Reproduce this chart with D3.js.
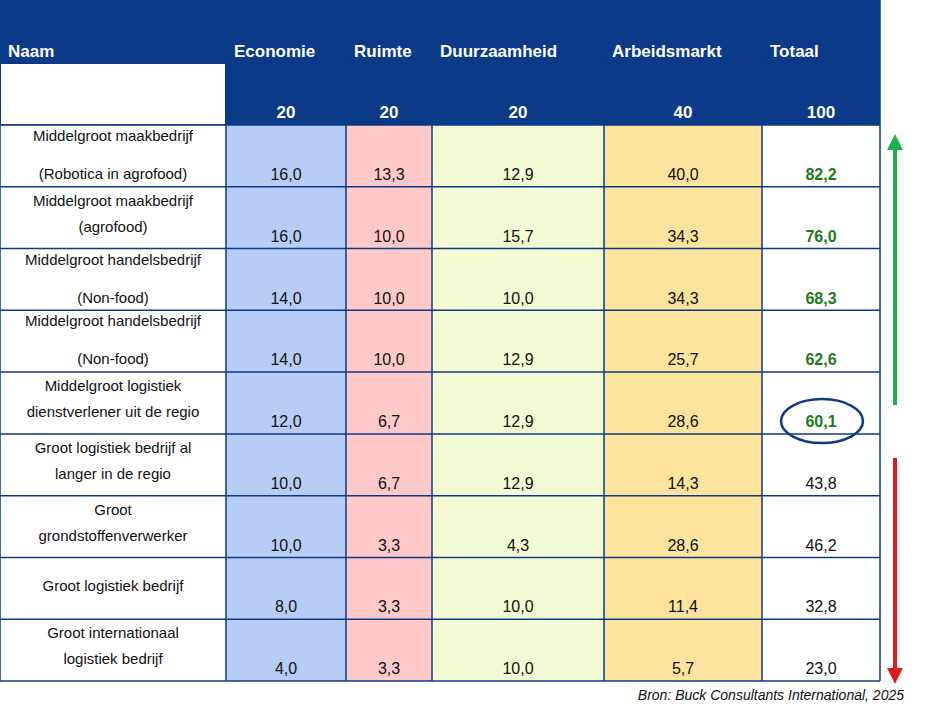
<!DOCTYPE html>
<html><head><meta charset="utf-8">
<script src="https://cdn.jsdelivr.net/npm/d3@7"></script>
<style>body{margin:0;background:#fff}</style>
</head><body><div id="chart"></div>
<script>
// data
const columns = ["Naam", "Economie", "Ruimte", "Duurzaamheid", "Arbeidsmarkt", "Totaal"];
const weights = ["", "20", "20", "20", "40", "100"];
const names = [
  ["Middelgroot maakbedrijf", "(Robotica in agrofood)"],
  ["Middelgroot maakbedrijf", "(agrofood)"],
  ["Middelgroot handelsbedrijf", "(Non-food)"],
  ["Middelgroot handelsbedrijf", "(Non-food)"],
  ["Middelgroot logistiek", "dienstverlener uit de regio"],
  ["Groot  logistiek bedrijf al", "langer in de regio"],
  ["Groot", "grondstoffenverwerker"],
  ["Groot logistiek bedrijf"],
  ["Groot internationaal", "logistiek bedrijf"]
];
const economie = [16.0, 16.0, 14.0, 14.0, 12.0, 10.0, 10.0, 8.0, 4.0];
const ruimte = [13.3, 10.0, 10.0, 10.0, 6.7, 6.7, 3.3, 3.3, 3.3];
const duurzaamheid = [12.9, 15.7, 10.0, 12.9, 12.9, 12.9, 4.3, 10.0, 10.0];
const arbeidsmarkt = [40.0, 34.3, 34.3, 25.7, 28.6, 14.3, 28.6, 11.4, 5.7];
const totaal = [82.2, 76.0, 68.3, 62.6, 60.1, 43.8, 46.2, 32.8, 23.0];
const highlighted = 5; // top rows in green
const circled = 4;

const W = 945, H = 721;
const colEdges = [0, 226, 346, 432, 604, 762, 880];
const colFill = ["#ffffff", "#b7cdf6", "#ffc9c9", "#f3fbd5", "#fde39c", "#ffffff"];
const navy = "#0b3a88";
const font = "'Liberation Sans', Arial, sans-serif";

const svg = d3.select("#chart").append("svg").attr("width", W).attr("height", H);

const y = d3.scaleBand().domain(d3.range(9)).range([125, 681]);
const fmt = v => v.toFixed(1).replace(".", ",");

// column backgrounds for body
columns.forEach((c, i) => {
  svg.append("rect").attr("x", colEdges[i]).attr("y", 125)
    .attr("width", colEdges[i + 1] - colEdges[i]).attr("height", 556)
    .attr("fill", colFill[i]);
});
// header
svg.append("rect").attr("x", 0).attr("y", 0).attr("width", 880).attr("height", 125).attr("fill", navy);
svg.append("rect").attr("x", 1).attr("y", 64).attr("width", 224).attr("height", 60).attr("fill", "#fff");

columns.forEach((c, i) => {
  svg.append("text").attr("x", colEdges[i] + 8).attr("y", 57)
    .attr("font-family", font).attr("font-size", 17).attr("font-weight", "bold")
    .attr("fill", "#fff").text(c);
  if (weights[i]) {
    svg.append("text").attr("x", (colEdges[i] + colEdges[i + 1]) / 2).attr("y", 118)
      .attr("text-anchor", "middle").attr("font-family", font).attr("font-size", 17)
      .attr("font-weight", "bold").attr("fill", "#fff").text(weights[i]);
  }
});

// grid lines
const grid = svg.append("g").attr("stroke", navy).attr("stroke-width", 1.5);
colEdges.forEach(x => grid.append("line").attr("x1", x).attr("x2", x).attr("y1", 0).attr("y2", 681));
[0, 63, 125].concat(d3.range(9).map(i => y(i) + y.bandwidth())).forEach(v =>
  grid.append("line").attr("x1", 0).attr("x2", 880).attr("y1", v).attr("y2", v));

// rows
const series = [economie, ruimte, duurzaamheid, arbeidsmarkt];
d3.range(9).forEach(r => {
  const top = y(r);
  const nm = names[r];
  const ys = nm.length === 1 ? [top + 34] : (r === 0 || r === 2 || r === 3 ? [top + 16, top + 54] : [top + 19, top + 45]);
  nm.forEach((t, k) => svg.append("text").attr("x", 113).attr("y", ys[k]).attr("text-anchor", "middle")
    .attr("font-family", font).attr("font-size", 15).attr("fill", "#111").text(t));
  series.forEach((s, j) => {
    svg.append("text").attr("x", (colEdges[j + 1] + colEdges[j + 2]) / 2).attr("y", top + 55)
      .attr("text-anchor", "middle").attr("font-family", font).attr("font-size", 16)
      .attr("fill", "#111").text(fmt(s[r]));
  });
  svg.append("text").attr("x", 821).attr("y", top + 55).attr("text-anchor", "middle")
    .attr("font-family", font).attr("font-size", 16)
    .attr("font-weight", r < highlighted ? "bold" : "normal")
    .attr("fill", r < highlighted ? "#1e7a1e" : "#111").text(fmt(totaal[r]));
});

// circle around highlighted total
svg.append("ellipse").attr("cx", 822).attr("cy", y(circled) + 49).attr("rx", 41).attr("ry", 22)
  .attr("fill", "none").attr("stroke", navy).attr("stroke-width", 2.5);

// arrows
const defs = svg.append("defs");
[["g", "#1fb04a"], ["r", "#e01b1b"]].forEach(([id, c]) => {
  defs.append("marker").attr("id", "m" + id).attr("viewBox", "0 0 10 10").attr("refX", 5).attr("refY", 5)
    .attr("markerWidth", 4).attr("markerHeight", 4).attr("orient", "auto-start-reverse")
    .append("path").attr("d", "M0,0L10,5L0,10z").attr("fill", c);
});
svg.append("line").attr("x1", 895).attr("x2", 895).attr("y1", 405).attr("y2", 142)
  .attr("stroke", "#1fb04a").attr("stroke-width", 4).attr("marker-end", "url(#mg)");
svg.append("line").attr("x1", 895).attr("x2", 895).attr("y1", 458).attr("y2", 676)
  .attr("stroke", "#e01b1b").attr("stroke-width", 4).attr("marker-end", "url(#mr)");

svg.append("text").attr("x", 904).attr("y", 700).attr("text-anchor", "end")
  .attr("font-family", font).attr("font-size", 14).attr("font-style", "italic").attr("fill", "#111")
  .text("Bron: Buck Consultants International, 2025");
</script></body></html>
